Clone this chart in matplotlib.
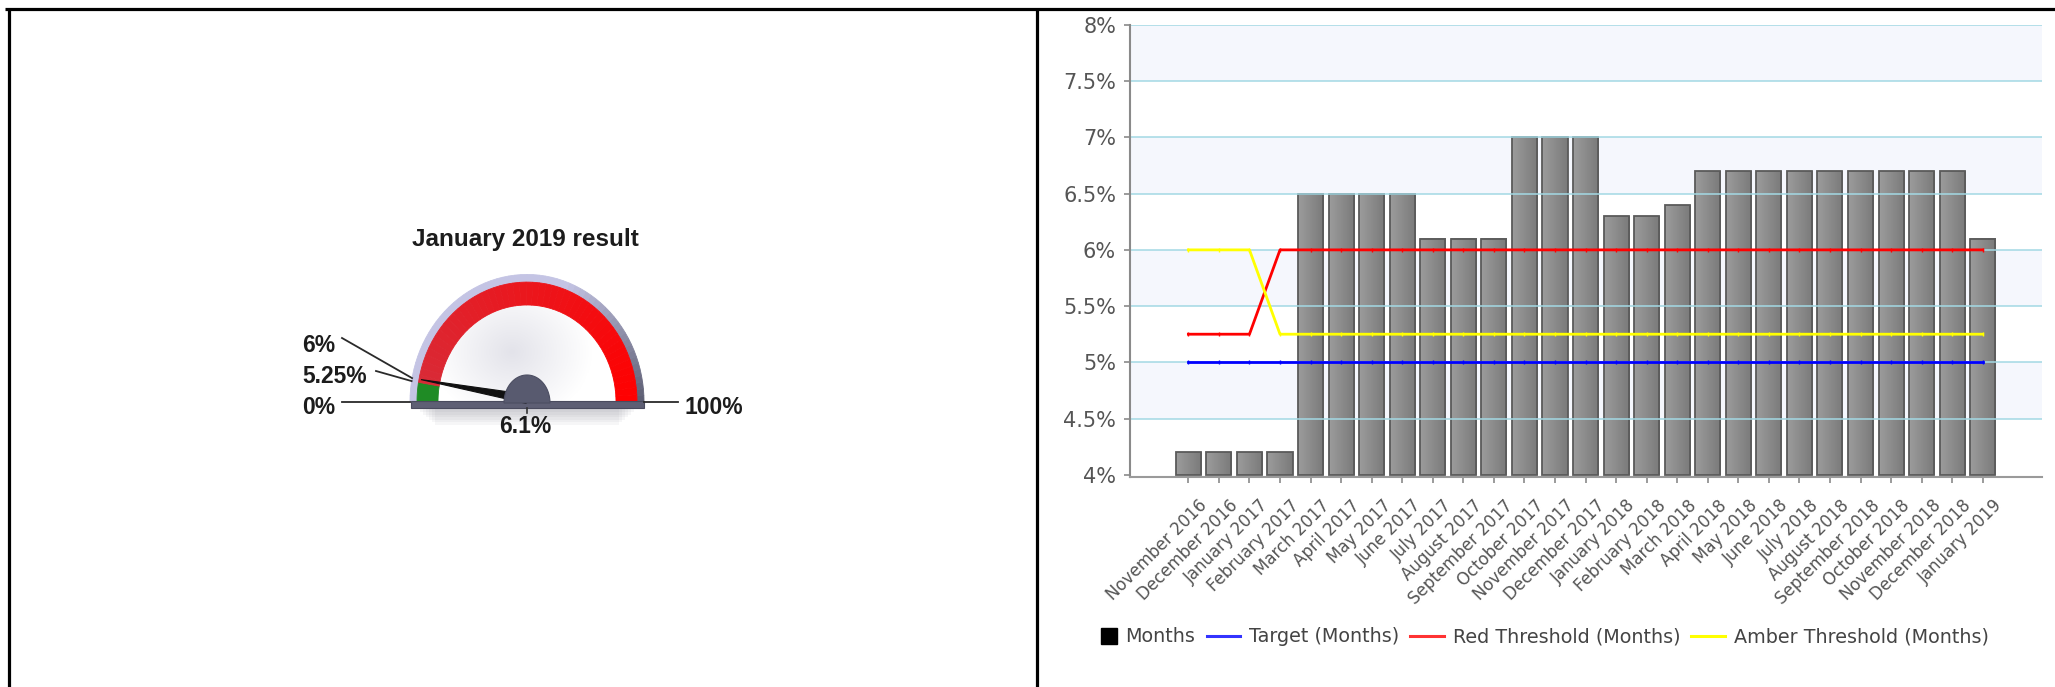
import numpy as np
import matplotlib
matplotlib.use("Agg")
import matplotlib.pyplot as plt
from matplotlib.colors import LinearSegmentedColormap, to_rgb
from matplotlib.lines import Line2D
from matplotlib.patches import Polygon, Rectangle
from matplotlib.legend_handler import HandlerPatch
from matplotlib.transforms import ScaledTranslation

W, H = 2055, 687

# ---- data ----
months = ["November 2016", "December 2016", "January 2017", "February 2017", "March 2017",
          "April 2017", "May 2017", "June 2017", "July 2017", "August 2017",
          "September 2017", "October 2017", "November 2017", "December 2017", "January 2018",
          "February 2018", "March 2018", "April 2018", "May 2018", "June 2018",
          "July 2018", "August 2018", "September 2018", "October 2018", "November 2018",
          "December 2018", "January 2019"]
values = [4.2, 4.2, 4.2, 4.2, 6.5, 6.5, 6.5, 6.5, 6.1, 6.1,
          6.1, 7.0, 7.0, 7.0, 6.3, 6.3, 6.4, 6.7, 6.7, 6.7,
          6.7, 6.7, 6.7, 6.7, 6.7, 6.7, 6.1]
target = [5.0, 5.0, 5.0, 5.0, 5.0, 5.0, 5.0, 5.0, 5.0, 5.0,
          5.0, 5.0, 5.0, 5.0, 5.0, 5.0, 5.0, 5.0, 5.0, 5.0,
          5.0, 5.0, 5.0, 5.0, 5.0, 5.0, 5.0]
red_threshold = [5.25, 5.25, 5.25, 6.0, 6.0, 6.0, 6.0, 6.0, 6.0, 6.0,
                 6.0, 6.0, 6.0, 6.0, 6.0, 6.0, 6.0, 6.0, 6.0, 6.0,
                 6.0, 6.0, 6.0, 6.0, 6.0, 6.0, 6.0]
amber_threshold = [6.0, 6.0, 6.0, 5.25, 5.25, 5.25, 5.25, 5.25, 5.25, 5.25,
                   5.25, 5.25, 5.25, 5.25, 5.25, 5.25, 5.25, 5.25, 5.25, 5.25,
                   5.25, 5.25, 5.25, 5.25, 5.25, 5.25, 5.25]
yticks = [4, 4.5, 5, 5.5, 6, 6.5, 7, 7.5, 8]

gauge_title = "January 2019 result"
gauge_value = 6.1
gauge_min, gauge_max = 0, 100
band_from = [0, 5.25]
band_to = [5.25, 100]
band_kind = ["green", "red"]
mark_values = [6, 5.25, 0, 100]
mark_labels = ["6%", "5.25%", "0%", "100%"]

fig = plt.figure(figsize=(W / 100, H / 100), dpi=100, facecolor="white")

# ---- full-figure pixel axes: frame + gauge ----
ax_g = fig.add_axes([0, 0, 1, 1])
ax_g.set_xlim(0, W)
ax_g.set_ylim(H, 0)
ax_g.axis("off")

for xs, ys in [([5, W], [8.5, 8.5]), ([8.5, 8.5], [8.5, H]), ([1037, 1037], [8.5, H])]:
    ax_g.plot(xs, ys, color="black", lw=2.3, solid_capstyle="butt")

CX, CY, SY = 527, 402, 1.09


def ang(v):
    return np.pi * (1 - (v - gauge_min) / (gauge_max - gauge_min))


def rim(r, a):
    return CX + r * np.cos(a), CY - r * SY * np.sin(a)


def sector(r0, r1, a0, a1, color, z, n=20):
    t = np.linspace(a0, a1, n)
    xo, yo = rim(r1, t)
    xi, yi = rim(r0, t[::-1])
    p = Polygon(np.column_stack([np.r_[xo, xi], np.r_[yo, yi]]), closed=True,
                facecolor=color, edgecolor=color, lw=0.6, zorder=z)
    ax_g.add_patch(p)
    return p


def mix(c1, c2, f):
    a, b = np.array(to_rgb(c1)), np.array(to_rgb(c2))
    return tuple(a + (b - a) * f)


# shadow under the gauge
for i in range(6):
    ax_g.add_patch(Rectangle((420 + i * 3, 407), 214 - i * 6, 5 + i * 2.5,
                             facecolor="#606070", alpha=0.05, edgecolor="none", zorder=1))

# face
t = np.linspace(0, np.pi, 100)
fx, fy = rim(111, t)
face = Polygon(np.column_stack([fx, fy]), closed=True, facecolor="white", edgecolor="none", zorder=2)
ax_g.add_patch(face)
gx = np.linspace(CX - 111, CX + 111, 200)
gy = np.linspace(CY - 125, CY, 120)
XX, YY = np.meshgrid(gx, gy)
shade = np.clip(1 - np.hypot((XX - (CX - 15)) / 80, (YY - (CY - 50)) / 70), 0, 1)
face_cmap = LinearSegmentedColormap.from_list("face", ["#ffffff", "#e3e3ea"])
im = ax_g.imshow(shade, cmap=face_cmap, vmin=0, vmax=1, extent=[CX - 111, CX + 111, CY, CY - 125],
                 aspect="auto", zorder=2.1, interpolation="bilinear")
im.set_clip_path(face)

# bezel
nseg = 60
edges = np.linspace(0, np.pi, nseg + 1)
for a0, a1 in zip(edges[:-1], edges[1:]):
    am = np.degrees((a0 + a1) / 2)
    f = np.clip((70 - am) / 70, 0, 1)
    sector(110, 117, a0, a1, mix("#c4c4e4", "#5c5d72", f), 3, n=4)

# bands
for lo, hi, kind in zip(band_from, band_to, band_kind):
    a_hi, a_lo = ang(lo), ang(hi)
    if kind == "green":
        sector(89, 110, a_lo, a_hi, "#1f8b25", 4)
    else:
        e = np.linspace(a_lo, a_hi, 50)
        for a0, a1 in zip(e[:-1], e[1:]):
            f = np.clip(np.degrees((a0 + a1) / 2) / 170, 0, 1)
            sector(89, 110, a0, a1, mix("#ff0000", "#d92a36", f), 4, n=4)

# base plate
ax_g.add_patch(Rectangle((411, 401), 233, 7, facecolor="#5e5f74", edgecolor="#4a4b5e", lw=0.8, zorder=5))

# needle
a = ang(gauge_value)
tx, ty = rim(108, a)
px, py = -np.sin(a) * 4.5, -np.cos(a) * 4.5
ax_g.add_patch(Polygon([(tx, ty), (CX + px, CY - 3 + py), (CX - px, CY - 3 - py)], closed=True,
                       facecolor="#111111", edgecolor="#111111", lw=0.8, zorder=6))

# hub
th = np.linspace(0, np.pi, 60)
ax_g.add_patch(Polygon(np.column_stack([CX + 23 * np.cos(th), CY + 1 - 28 * np.sin(th)]), closed=True,
                       facecolor="#585a6f", edgecolor="#4c4e62", lw=0.8, zorder=7))
ax_g.plot([CX, CX], [408, 413], color="#333", lw=1.2, zorder=7)

# labels
gfont = dict(family="Liberation Sans", fontweight="bold", color="#1c1c1c")
ax_g.text(525, 246, gauge_title, ha="center", va="baseline", fontsize=17.5, **gfont)
label_xy = [(302, 352), (302, 383), (302, 414), (685, 414)]
line_start = [(342, 338), (376, 371), (342, 402), (678, 402)]
for v, lab, (lx, ly), (sx, sy) in zip(mark_values, mark_labels, label_xy, line_start):
    ex, ey = rim(117, ang(v))
    ax_g.plot([sx, ex], [sy, ey], color="#2a2a2a", lw=1.3, zorder=8)
    ax_g.text(lx, ly, lab, ha="left", va="baseline", fontsize=16.5, **gfont)
ax_g.text(525, 433, f"{gauge_value:g}%", ha="center", va="baseline", fontsize=16.5, **gfont)

# ---- bar chart ----
ax = fig.add_axes([1130 / W, 1 - 477 / H, 912 / W, 452 / H])
x = np.arange(len(months))
bw = 0.82

for lo in [4.5, 5.5, 6.5, 7.5]:
    ax.axhspan(lo, lo + 0.5, color="#f5f7fd", zorder=0, lw=0)

bar_cmap = LinearSegmentedColormap.from_list("bar", ["#9c9c9c", "#7a7a7a"])
grad = np.linspace(0, 1, 64).reshape(1, -1)
for xi, v in zip(x, values):
    ax.imshow(grad, cmap=bar_cmap, extent=[xi - bw / 2, xi + bw / 2, 4.0, v],
              aspect="auto", zorder=2, interpolation="bilinear")
ax.bar(x, [v - 4 for v in values], bottom=4, width=bw, facecolor="none",
       edgecolor="#5a5a5a", lw=1.3, zorder=2.2)

for yv in yticks[1:]:
    ax.axhline(yv, color="#a3d9e4", lw=1.3, alpha=0.85, zorder=2.5)

ax.plot(x, target, color="#0000ff", lw=2.0, marker="|", ms=3, mew=1, zorder=3)
ax.plot(x, red_threshold, color="#ff0000", lw=2.0, marker="|", ms=3, mew=1, zorder=3)
ax.plot(x, amber_threshold, color="#ffff00", lw=2.0, marker="|", ms=3, mew=1, zorder=3)

ax.set_xlim(-1.91, 27.94)
ax.set_ylim(3.98, 8.0)
ax.set_yticks(yticks)
ax.set_yticklabels([f"{v:g}%" for v in yticks])
ax.set_xticks(x)
ax.set_xticklabels(months, rotation=45, ha="right", rotation_mode="anchor")
for s in ["top", "right"]:
    ax.spines[s].set_visible(False)
ax.spines["left"].set_color("#8a8a8a")
ax.spines["left"].set_linewidth(1.5)
ax.spines["bottom"].set_color("#9a9a9a")
ax.spines["bottom"].set_linewidth(1.5)
ax.tick_params(axis="y", length=4, width=1.2, color="#8a8a8a", labelsize=15,
               labelcolor="#555555", pad=6)
ax.tick_params(axis="x", length=4, width=1.2, color="#8a8a8a", labelsize=12,
               labelcolor="#555555", pad=10)
shift = ScaledTranslation(0.10, 0, fig.dpi_scale_trans)
for lab in ax.get_xticklabels():
    lab.set_transform(lab.get_transform() + shift)


def square_patch(legend, orig_handle, xdescent, ydescent, width, height, fontsize):
    s = 11.5
    return Rectangle((-xdescent + width - s, -ydescent + (height - s) / 2), s, s)


handles = [
    Rectangle((0, 0), 1, 1, facecolor="black", edgecolor="black"),
    Line2D([], [], color="#3333ff", lw=2.2),
    Line2D([], [], color="#ff3333", lw=2.2),
    Line2D([], [], color="#ffff00", lw=2.2),
]
labels = ["Months", "Target (Months)", "Red Threshold (Months)", "Amber Threshold (Months)"]
fig.legend(handles, labels, loc="center", bbox_to_anchor=(1536 / W, 1 - 637 / H), ncol=4,
           frameon=False, fontsize=13.8, handlelength=1.75, handletextpad=0.46, columnspacing=0.58,
           labelcolor="#444444", handler_map={Rectangle: HandlerPatch(patch_func=square_patch)})

fig.savefig("out.png", dpi=100, facecolor="white")
